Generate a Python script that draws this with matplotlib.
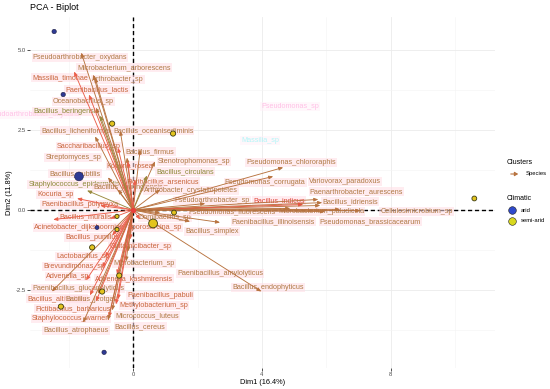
import numpy as np
import matplotlib
matplotlib.use("Agg")
from matplotlib import pyplot as plt
from matplotlib.lines import Line2D

plt.rcParams['font.family'] = ['Liberation Sans', 'DejaVu Sans']

# individuals (PCA scores)
arid_x = [-2.45, -2.17, -1.68, -1.12, -0.90]
arid_y = [5.58, 3.61, 1.05, -0.55, -4.45]
arid_s = [10, 10, 40, 8, 10]
semi_x = [-0.65, 1.24, -0.50, -0.50, 0.62, 1.27, -1.27, -0.43, -0.96, -2.24, 10.59]
semi_y = [2.70, 2.39, -0.20, -0.61, -0.42, -0.08, -1.17, -2.05, -2.55, -3.02, 0.36]
semi_s = [14, 14, 9, 9, 40, 12, 14, 14, 14, 14, 12]

# variables (species loadings), label positions, colour group
species = ['Pseudoarthrobacter_oxydans', 'Microbacterium_arborescens', 'Massilia_timonae',
           'Arthrobacter_sp', 'Paenibacillus_lactis', 'Oceanobacillus_sp', 'Bacillus_beringensis',
           'Bacillus_licheniformis', 'Bacillus_oceanisediminis', 'Saccharibacillus_sp',
           'Streptomyces_sp', 'Bacillus_firmus', 'Kocuria_rosea', 'Stenotrophomonas_sp',
           'Bacillus_circulans', 'Bacillus_subtilis', 'Fictibacillus_arsenicus',
           'Staphylococcus_epidermidis', 'Bacillus_thuringiensis', 'Arthrobacter_crystallopoietes',
           'Kocuria_sp', 'Pseudoarthrobacter_sp', 'Paenibacillus_polymyxa', 'Bacillus_muralis',
           'Acinetobacter_dijkshoorniae', 'Domibacillus_sp', 'Sporosarcina_sp', 'Bacillus_simplex',
           'Paenibacillus_illinoisensis', 'Bacillus_pumilus', 'Glutamicibacter_sp',
           'Lactobacillus_sp', 'Microbacterium_sp', 'Brevundimonas_sp',
           'Paenibacillus_amylolyticus', 'Advenella_sp', 'Advenella_kashmirensis',
           'Paenibacillus_glucanolyticus', 'Paenibacillus_pabuli', 'Bacillus_altitudinis',
           'Bacillus_jeotgali', 'Methylobacterium_sp', 'Fictibacillus_barbaricus',
           'Micrococcus_luteus', 'Staphylococcus_warneri', 'Bacillus_cereus', 'Bacillus_atrophaeus',
           'Bacillus_endophyticus', 'Pseudomonas_chlororaphis', 'Pseudomonas_corrugata',
           'Variovorax_paradoxus', 'Paenarthrobacter_aurescens', 'Bacillus_idriensis',
           'Bacillus_indicus', 'Pseudomonas_fluorescens', 'Microbacterium_paludicola',
           'Cellulosimicrobium_sp', 'Pseudomonas_brassicacearum']
load_x = [-1.61, -1.24, -1.83, -1.18, -1.37, -1.15, -1.02, -1.18, -0.40, -0.47,
          -0.19, 0.22, -0.16, 0.68, 0.43, -0.78, 0.06, -1.43, -0.47, 0.84,
          -1.74, 2.24, -1.02, -0.71, -2.48, 0.84, 0.22, 1.77, 2.70, -0.65,
          -0.09, -0.87, -0.16, -0.96, -0.22, -1.46, -0.50, -2.52, -0.47, -1.34,
          -1.09, -0.53, -1.15, -0.65, -0.75, -0.78, -1.55, 3.98, 4.66, 4.35,
          5.75, 5.87, 5.81, 5.28, 4.88, 6.43, 7.05, 5.96]
load_y = [4.92, 4.23, 4.33, 4.14, 3.61, 3.20, 2.95, 2.30, 2.48, 1.95,
          1.64, 1.89, 1.52, 1.52, 1.08, 1.02, 0.95, 0.61, 0.64, 0.64,
          0.36, 0.20, 0.14, -0.27, -0.30, -0.08, -0.30, -0.36, -0.39, -0.80,
          -0.92, -1.48, -1.30, -1.80, -1.61, -2.20, -2.02, -2.55, -2.80, -2.67,
          -2.61, -2.95, -2.86, -3.14, -3.36, -3.45, -3.52, -2.55, 1.33, 1.05,
          0.33, 0.23, 0.14, 0.17, 0.05, 0.02, -0.02, -0.05]
lab_x = [-1.65, -0.28, -2.27, -0.47, -1.12, -1.55, -2.08, -1.77, 0.62, -1.37,
         -1.86, 0.53, -0.09, 1.89, 1.61, -1.80, 0.93, -1.83, -0.16, 1.80,
         -2.42, 2.45, -1.65, -1.49, -1.65, 0.99, 0.68, 2.45, 4.35, -1.27,
         0.22, -1.55, 0.34, -1.83, 2.70, -2.02, 0.03, -1.71, 0.84, -2.36,
         -1.30, 0.65, -1.86, 0.43, -1.93, 0.22, -1.77, 4.19, 4.91, 4.10,
         6.58, 6.93, 6.74, 4.53, 3.07, 5.84, 8.79, 7.36]
lab_y = [4.77, 4.45, 4.14, 4.08, 3.77, 3.39, 3.08, 2.48, 2.48, 1.98,
         1.64, 1.83, 1.39, 1.52, 1.20, 1.14, 0.89, 0.80, 0.70, 0.61,
         0.48, 0.30, 0.17, -0.20, -0.55, -0.23, -0.55, -0.67, -0.36, -0.86,
         -1.14, -1.45, -1.67, -1.77, -1.98, -2.08, -2.14, -2.45, -2.67, -2.77,
         -2.80, -2.98, -3.08, -3.30, -3.39, -3.64, -3.77, -2.42, 1.48, 0.86,
         0.89, 0.58, 0.27, 0.30, -0.05, -0.05, -0.05, -0.36]
group = list('bbrbrbobbr' 'bbrbobrobb' 'rbrrrbrbbr' 'rrbrbrrbrr' 'brrbrbbbbb' 'bbbdbbbb')

text_col = {'b': '#B07A45', 'o': '#8E8A3A', 'r': '#C9663C', 'd': '#E04A3C'}
arrow_col = {'b': '#B8733F', 'o': '#9A8A3E', 'r': '#EA5F4A', 'd': '#E2553F'}

# faint individual labels in the background
ghost_txt = ['Pseudoarthrobacter_oxydans', 'Massilia_sp', 'Pseudomonas_sp']
ghost_x = [-1.65, 3.94, 4.88]
ghost_y = [2.98, 2.17, 3.23]
ghost_c = ['#FF9BD8', '#7FF5F5', '#FF9BD8']

fig = plt.figure(figsize=(5.5, 3.89), dpi=100)
ax = fig.add_axes([0.0545, 0.054, 0.846, 0.902])
ax.set_xlim(-3.2, 11.24)
ax.set_ylim(-4.94, 6.03)

for s in ax.spines.values():
    s.set_visible(False)
ax.set_xticks([0, 4, 8])
ax.set_xticklabels(['0', '4', '8'])
ax.set_yticks([-2.5, 0, 2.5, 5.0])
ax.set_yticklabels(['-2.5', '0.0', '2.5', '5.0'])
ax.set_xticks([-2, 2, 6, 10], minor=True)
ax.set_yticks([-3.75, -1.25, 1.25, 3.75], minor=True)
ax.tick_params(which='major', length=2, width=0.6, color='#333333', labelsize=4.2,
               labelcolor='#4D4D4D', pad=1)
ax.tick_params(which='minor', length=0)
ax.grid(True, which='major', color='#EBEBEB', linewidth=0.6)
ax.grid(True, which='minor', color='#F4F4F4', linewidth=0.4)
ax.set_axisbelow(True)

ax.axhline(0, color='black', linestyle=(0, (3, 2)), linewidth=1.0, zorder=1)
ax.axvline(0, color='black', linestyle=(0, (3, 2)), linewidth=1.0, zorder=1)

for t, gx, gy, c in zip(ghost_txt, ghost_x, ghost_y, ghost_c):
    ax.text(gx, gy, t, fontsize=5.2, color=c, alpha=0.6, ha='right' if gx < 0 else 'center',
            va='center', clip_on=False, zorder=1,
            bbox=dict(boxstyle='square,pad=0.15', fc='#FFF0F8', ec='none', alpha=0.5))

for name, lx, ly, g in zip(species, lab_x, lab_y, group):
    ax.text(lx, ly, name, fontsize=5.2, color=text_col[g], ha='center', va='center', zorder=2,
            bbox=dict(boxstyle='square,pad=0.15', fc='#FFDDE5', ec='none', alpha=0.55))

for x, y, g in zip(load_x, load_y, group):
    ax.annotate('', xy=(x, y), xytext=(0, 0), zorder=3,
                arrowprops=dict(arrowstyle='-|>,head_length=0.25,head_width=0.1',
                                color=arrow_col[g], lw=0.65, shrinkA=0, shrinkB=0))

ax.scatter(arid_x, arid_y, s=arid_s, color='#2E3A94', edgecolor='#1A1A40', linewidth=0.4, zorder=4)
ax.scatter(semi_x, semi_y, s=semi_s, color='#E3C41E', edgecolor='#3A3A10', linewidth=0.6, zorder=4)
ax.scatter([0], [0], s=8, color='#E8403A', zorder=5)

ax.set_xlabel('Dim1 (16.4%)', fontsize=5.3, labelpad=1)
ax.set_ylabel('Dim2 (11.8%)', fontsize=5.3, labelpad=2)
fig.text(0.0545, 0.982, 'PCA - Biplot', fontsize=6.5, ha='left', va='center')

# legend drawn by hand
fig.text(0.921, 1 - 162 / 389, 'Clusters', fontsize=5, va='center')
fig.add_artist(matplotlib.patches.FancyArrowPatch((508 / 550, 1 - 174 / 389), (521 / 550, 1 - 174 / 389),
               transform=fig.transFigure, arrowstyle='-|>,head_length=2,head_width=1.2',
               color='#B8733F', lw=0.8))
fig.text(0.955, 1 - 174 / 389, 'Species', fontsize=4.2, va='center')
fig.text(0.921, 1 - 198 / 389, 'Climatic', fontsize=5, va='center')
fig.add_artist(Line2D([512 / 550], [1 - 210 / 389], marker='o', markersize=5.5, color='#2F4ACB',
                      markeredgecolor='#222222', markeredgewidth=0.4, transform=fig.transFigure))
fig.add_artist(Line2D([512 / 550], [1 - 221 / 389], marker='o', markersize=5.5, color='#D8D81E',
                      markeredgecolor='#222222', markeredgewidth=0.4, transform=fig.transFigure))
fig.text(0.947, 1 - 210 / 389, 'arid', fontsize=4.2, va='center')
fig.text(0.947, 1 - 221 / 389, 'semi-arid', fontsize=4.2, va='center')

fig.savefig('out.png', dpi=100)
